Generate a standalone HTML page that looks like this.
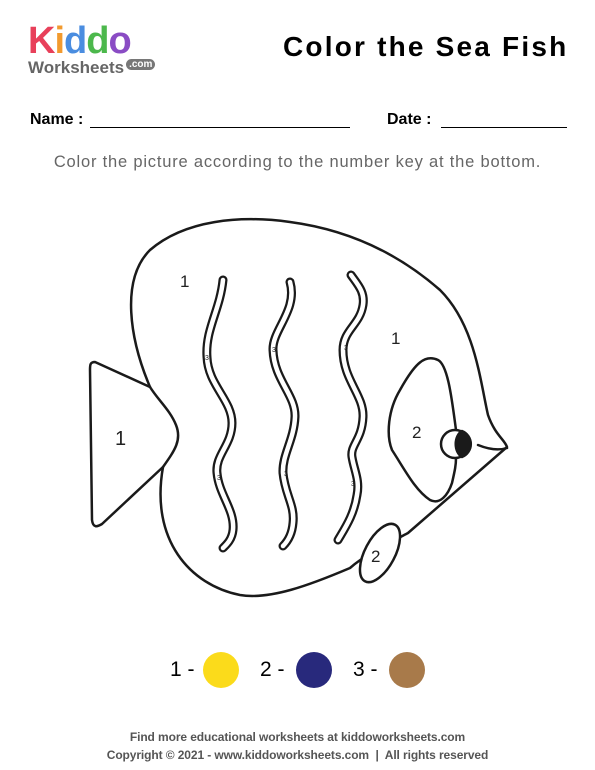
<!DOCTYPE html>
<html><head><meta charset="utf-8"><style>
body{margin:0;width:595px;height:770px;background:#fff;font-family:"Liberation Sans",sans-serif;position:relative;overflow:hidden}
.a{position:absolute;white-space:nowrap}
</style></head><body>
<div class="a" style="left:28px;top:22px;width:140px;height:60px">
 <div style="font-size:38px;font-weight:bold;letter-spacing:-1px;line-height:38px">
  <span style="color:#e8405a">K</span><span style="color:#f29a2e">i</span><span style="color:#4a8de0">d</span><span style="color:#4cb84c">d</span><span style="color:#8a4cc4">o</span></div>
 <div style="font-size:17px;font-weight:bold;color:#666;margin-top:-2px">Worksheets<span style="font-size:10px;background:#777;color:#fff;border-radius:7px;padding:0 3px;margin-left:2px;vertical-align:6px">.com</span></div>
</div>
<div class="a" style="left:283px;top:31px;font-size:28px;font-weight:bold;letter-spacing:2.2px">Color the Sea Fish</div>
<div class="a" style="left:30px;top:111px;font-size:16px;font-weight:bold">Name :</div>
<div class="a" style="left:90px;top:127px;width:260px;border-top:1.5px solid #000"></div>
<div class="a" style="left:387px;top:111px;font-size:16px;font-weight:bold">Date :</div>
<div class="a" style="left:441px;top:127px;width:126px;border-top:1.5px solid #000"></div>
<div class="a" style="left:0;width:595px;text-align:center;top:153px;font-size:16.5px;color:#666;letter-spacing:0.8px">Color the picture according to the number key at the bottom.</div>
<svg class="a" style="left:0;top:0" width="595" height="770" fill="none" stroke="#1a1a1a" stroke-width="2.5" stroke-linejoin="round" stroke-linecap="round">
 <path d="M150 387 C130 340 120 280 150 250 C185 220 240 215 290 222 C350 230 400 255 440 290 C475 325 480 380 488 415 C495 435 505 440 507 447 L408 533 C385 545 365 555 350 568 C310 585 270 600 240 595 C190 585 150 540 163 467 C175 450 182 440 176 425 C170 410 158 400 150 387 Z"/>
 <path d="M150 387 L95 362 C90 362 90 365 90 370 L92 520 C93 528 97 527 102 524 L163 467"/>
 <path d="M456 430 C452 400 448 365 438 360 C425 354 415 363 400 390 C388 410 386 435 392 450 C405 470 415 490 430 500 C440 505 448 495 452 483 C455 470 456 465 456 458"/>
 <circle cx="455" cy="444" r="14" fill="#fff"/>
 <path d="M462 431 A14 14 0 0 1 462 457 A10 14 0 0 1 462 431Z" fill="#1a1a1a"/>
 <path d="M478 445 C488 449 498 451 507 448"/>
 <ellipse cx="380" cy="553" rx="32" ry="15" transform="rotate(-62 380 553)" fill="#fff"/>
 <g>
  <path d="M223 280 C220 310 205 330 207 357 C208 385 232 400 232 423 C232 445 215 455 217 473 C219 495 235 510 233 530 C232 540 226 545 223 548" stroke-width="9"/>
  <path d="M223 280 C220 310 205 330 207 357 C208 385 232 400 232 423 C232 445 215 455 217 473 C219 495 235 510 233 530 C232 540 226 545 223 548" stroke="#fff" stroke-width="4.5"/>
  <path d="M290 282 C298 310 272 330 273 350 C274 380 296 395 295 417 C294 440 282 455 283 473 C285 495 295 505 293 523 C292 535 287 542 283 546" stroke-width="9"/>
  <path d="M290 282 C298 310 272 330 273 350 C274 380 296 395 295 417 C294 440 282 455 283 473 C285 495 295 505 293 523 C292 535 287 542 283 546" stroke="#fff" stroke-width="4.5"/>
  <path d="M351 275 C358 285 365 292 363 305 C360 325 343 330 343 350 C343 380 364 395 363 417 C362 440 350 445 352 457 C354 470 360 480 357 495 C354 515 345 528 338 540" stroke-width="9"/>
  <path d="M351 275 C358 285 365 292 363 305 C360 325 343 330 343 350 C343 380 364 395 363 417 C362 440 350 445 352 457 C354 470 360 480 357 495 C354 515 345 528 338 540" stroke="#fff" stroke-width="4.5"/>
 </g>
 <g fill="#222" stroke="none" font-family="Liberation Sans" font-size="17">
  <text x="180" y="287">1</text><text x="391" y="344">1</text><text x="115" y="445" font-size="20">1</text>
  <text x="412" y="438">2</text><text x="371" y="562">2</text>
  <g font-size="7"><text x="205" y="360">3</text><text x="272" y="352">3</text><text x="344" y="350">3</text><text x="217" y="480">3</text><text x="284" y="476">3</text><text x="351" y="486">3</text></g>
 </g>
</svg>
<div class="a" style="left:170px;top:652px;font-size:21px;line-height:36px">
 <span class="a" style="left:0">1 -</span><span class="a" style="left:33px;top:0;width:36px;height:36px;border-radius:50%;background:#fbdb1b"></span>
 <span class="a" style="left:90px">2 -</span><span class="a" style="left:126px;top:0;width:36px;height:36px;border-radius:50%;background:#28297c"></span>
 <span class="a" style="left:183px">3 -</span><span class="a" style="left:219px;top:0;width:36px;height:36px;border-radius:50%;background:#a87a4a"></span>
</div>
<div class="a" style="left:0;width:595px;text-align:center;top:728px;font-size:12px;color:#555;line-height:18px;font-weight:bold;letter-spacing:-0.1px">Find more educational worksheets at kiddoworksheets.com<br>Copyright © 2021 - www.kiddoworksheets.com &nbsp;|&nbsp; All rights reserved</div>
</body></html>
